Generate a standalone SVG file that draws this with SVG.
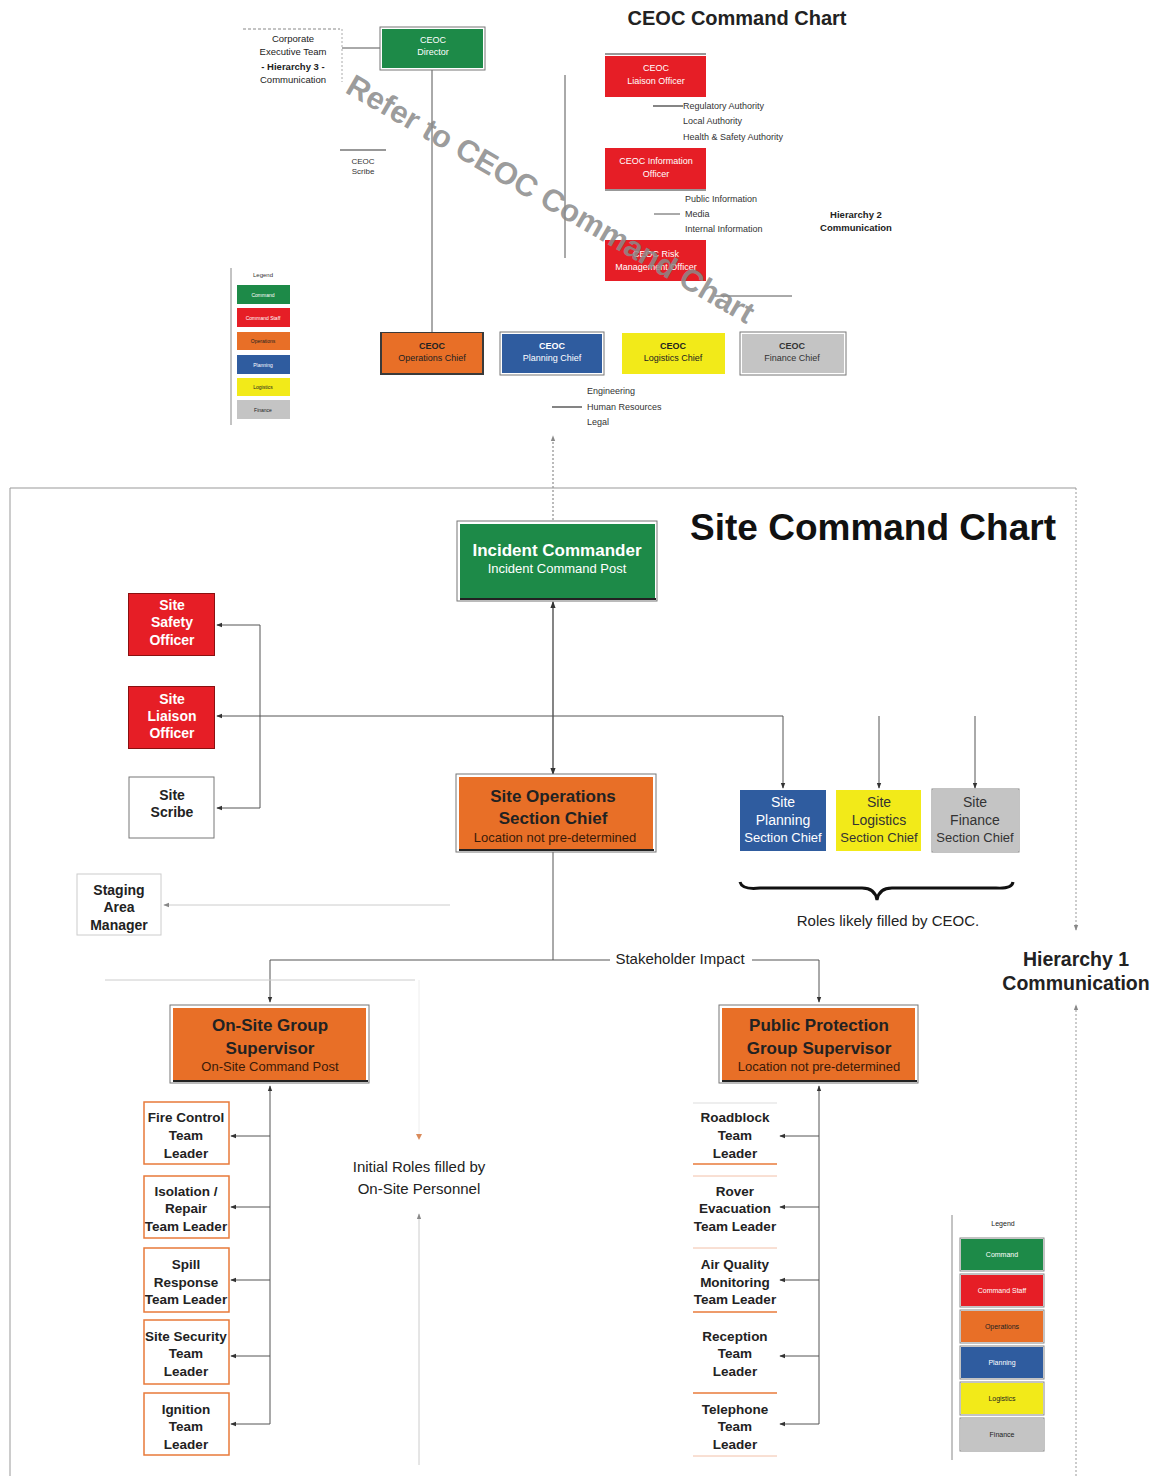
<svg xmlns="http://www.w3.org/2000/svg" width="1156" height="1476" viewBox="0 0 1156 1476">
  <defs>
    <style>
      text { font-family: "Liberation Sans", Arial, sans-serif; text-anchor: middle; }
      .b { font-weight: bold; }
      .ln { stroke: #333; stroke-width: 1.2; fill: none; }
      .lnt { stroke: #555; stroke-width: 1; fill: none; }
      .faint { stroke: #ccc; stroke-width: 1; fill: none; }
      .frame { stroke: #999; stroke-width: 1; fill: none; }
      .green { fill: #1d8a48; }
      .red { fill: #e61e26; }
      .orange { fill: #e86f27; }
      .blue { fill: #2f5c9f; }
      .yellow { fill: #f2ea19; }
      .grey { fill: #c4c4c4; }
      .shadow { fill: #3a3a3a; }
      .outer { fill: #fff; stroke: #777; stroke-width: 1; }
      .tiny { font-size: 8px; }
      .small { font-size: 9px; }
      .lst { font-size: 9px; text-anchor: start; fill: #333; }
      .wb { fill: #fff; font-weight: bold; }
      .kb { fill: #222; font-weight: bold; }
      .lead { font-size: 13.5px; font-weight: bold; fill: #222; }
      .obox { fill: #fff; stroke: #e87a3a; stroke-width: 1.5; }
    </style>
    <marker id="ah" viewBox="0 0 8 8" refX="7" refY="4" markerWidth="6" markerHeight="6" orient="auto">
      <path d="M0,1 L8,4 L0,7 z" fill="#333"/>
    </marker>
    <marker id="ahg" viewBox="0 0 8 8" refX="7" refY="4" markerWidth="6" markerHeight="6" orient="auto">
      <path d="M0,1 L8,4 L0,7 z" fill="#888"/>
    </marker>
  </defs>

  <rect width="1156" height="1476" fill="#fff"/>

  <!-- ===== CEOC chart (upper) ===== -->
  <text x="737" y="25" class="b" font-size="20" fill="#222">CEOC Command Chart</text>

  <g id="connectors-ceoc">
    <line x1="243" y1="29" x2="340" y2="29" stroke="#888" stroke-dasharray="3,2"/>
    <line x1="342" y1="29" x2="342" y2="82" stroke="#aaa" stroke-dasharray="2,2"/>
    <line x1="342" y1="48" x2="380" y2="48" class="lnt"/>
    <line x1="432" y1="69" x2="432" y2="333" class="lnt"/>
    <line x1="340" y1="150" x2="386" y2="150" class="ln"/>
    <line x1="565" y1="75" x2="565" y2="258" class="lnt"/>
    <line x1="605" y1="54" x2="706" y2="54" class="ln"/>
    <line x1="653" y1="106" x2="683" y2="106" class="ln"/>
    <line x1="605" y1="190" x2="706" y2="190" class="ln"/>
    <line x1="654" y1="214" x2="680" y2="214" class="lnt"/>
    <line x1="715" y1="296" x2="792" y2="296" class="lnt"/>
    <line x1="552" y1="407" x2="582" y2="407" class="ln"/>
    <line x1="553" y1="520" x2="553" y2="436" stroke="#777" stroke-dasharray="2,2" marker-end="url(#ahg)"/>
  </g>

  <g id="corporate-exec">
    <text x="293" y="42" font-size="9.5" fill="#222">Corporate</text>
    <text x="293" y="55" font-size="9.5" fill="#222">Executive Team</text>
    <text x="293" y="70" font-size="9.5" class="b" fill="#222">- Hierarchy 3 -</text>
    <text x="293" y="83" font-size="9.5" fill="#222">Communication</text>
  </g>

  <g id="ceoc-director">
    <rect x="380" y="27" width="105" height="43" class="outer"/>
    <rect x="382" y="29" width="101" height="39" class="green"/>
    <text x="433" y="43" class="small" fill="#fff">CEOC</text>
    <text x="433" y="55" class="small" fill="#fff">Director</text>
  </g>

  <g id="ceoc-scribe">
    <text x="363" y="164" class="tiny" fill="#333">CEOC</text>
    <text x="363" y="174" class="tiny" fill="#333">Scribe</text>
  </g>

  <g id="ceoc-liaison">
    <rect x="605" y="56" width="101" height="41" class="red"/>
    <text x="656" y="71" class="small" fill="#fff">CEOC</text>
    <text x="656" y="84" class="small" fill="#fff">Liaison Officer</text>
    <text x="683" y="109" class="lst">Regulatory Authority</text>
    <text x="683" y="124" class="lst">Local Authority</text>
    <text x="683" y="140" class="lst">Health &amp; Safety Authority</text>
  </g>

  <g id="ceoc-information">
    <rect x="605" y="148" width="101" height="41" class="red"/>
    <text x="656" y="164" class="small" fill="#fff">CEOC Information</text>
    <text x="656" y="177" class="small" fill="#fff">Officer</text>
    <text x="685" y="202" class="lst">Public Information</text>
    <text x="685" y="217" class="lst">Media</text>
    <text x="685" y="232" class="lst">Internal Information</text>
  </g>

  <g id="ceoc-risk">
    <rect x="605" y="240" width="101" height="41" class="red"/>
    <text x="656" y="257" class="small" fill="#fff">CEOC Risk</text>
    <text x="656" y="270" class="small" fill="#fff">Management Officer</text>
  </g>

  <g id="hierarchy-2">
    <text x="856" y="218" font-size="9.5" class="b" fill="#222">Hierarchy 2</text>
    <text x="856" y="231" font-size="9.5" class="b" fill="#222">Communication</text>
  </g>

  <g id="ceoc-operations">
    <rect x="380" y="332" width="104" height="43" class="shadow"/>
    <rect x="382" y="333" width="100" height="40" class="orange"/>
    <text x="432" y="349" class="small b" fill="#222">CEOC</text>
    <text x="432" y="361" class="small" fill="#222">Operations Chief</text>
  </g>
  <g id="ceoc-planning">
    <rect x="500" y="332" width="104" height="43" class="outer"/>
    <rect x="502" y="334" width="100" height="39" class="blue"/>
    <text x="552" y="349" class="small b" fill="#fff">CEOC</text>
    <text x="552" y="361" class="small" fill="#fff">Planning Chief</text>
  </g>
  <g id="ceoc-logistics">
    <rect x="622" y="333" width="103" height="41" class="yellow"/>
    <text x="673" y="349" class="small b" fill="#222">CEOC</text>
    <text x="673" y="361" class="small" fill="#222">Logistics Chief</text>
  </g>
  <g id="ceoc-finance">
    <rect x="740" y="332" width="106" height="43" class="outer"/>
    <rect x="742" y="334" width="102" height="39" class="grey"/>
    <text x="792" y="349" class="small b" fill="#333">CEOC</text>
    <text x="792" y="361" class="small" fill="#333">Finance Chief</text>
  </g>

  <g id="planning-list">
    <text x="587" y="394" class="lst">Engineering</text>
    <text x="587" y="410" class="lst">Human Resources</text>
    <text x="587" y="425" class="lst">Legal</text>
  </g>

  <g id="legend-ceoc">
    <line x1="231" y1="268" x2="231" y2="425" stroke="#888"/>
    <text x="263" y="277" font-size="6" fill="#333">Legend</text>
    <rect x="237" y="285" width="53" height="19" class="green"/>
    <text x="263" y="297" font-size="5" fill="#fff">Command</text>
    <rect x="237" y="308" width="53" height="19" class="red"/>
    <text x="263" y="320" font-size="5" fill="#fff">Command Staff</text>
    <rect x="237" y="332" width="53" height="18" class="orange"/>
    <text x="263" y="343" font-size="5" fill="#222">Operations</text>
    <rect x="237" y="355" width="53" height="19" class="blue"/>
    <text x="263" y="367" font-size="5" fill="#fff">Planning</text>
    <rect x="237" y="378" width="53" height="18" class="yellow"/>
    <text x="263" y="389" font-size="5" fill="#222">Logistics</text>
    <rect x="237" y="400" width="53" height="19" class="grey"/>
    <text x="263" y="412" font-size="5" fill="#222">Finance</text>
  </g>

  <!-- overlay note across the CEOC chart -->
  <text x="0" y="0" font-size="31" font-weight="bold" fill="#8a8a8a" fill-opacity="0.85" style="text-anchor:start" transform="translate(344,92) rotate(30)">Refer to CEOC Command Chart</text>

  <!-- ===== Site chart (lower) ===== -->
  <g id="site-frame">
    <line x1="10" y1="488" x2="1076" y2="488" class="frame"/>
    <line x1="10" y1="488" x2="10" y2="1476" class="frame"/>
    <line x1="1076" y1="488" x2="1076" y2="930" stroke="#999" stroke-dasharray="2,2" marker-end="url(#ahg)"/>
    <line x1="1076" y1="1476" x2="1076" y2="1005" stroke="#999" stroke-dasharray="2,2" marker-end="url(#ahg)"/>
  </g>

  <text x="873" y="540" class="b" font-size="37" fill="#111">Site Command Chart</text>

  <g id="connectors-site">
    <!-- command line -->
    <line x1="553" y1="690" x2="553" y2="602" class="ln" marker-end="url(#ah)"/>
    <line x1="553" y1="690" x2="553" y2="774" class="ln" marker-end="url(#ah)"/>
    <!-- staff branch -->
    <line x1="553" y1="716" x2="217" y2="716" class="lnt" marker-end="url(#ah)"/>
    <line x1="553" y1="716" x2="783" y2="716" class="lnt"/>
    <line x1="260" y1="625" x2="260" y2="808" class="lnt"/>
    <line x1="260" y1="625" x2="217" y2="625" class="lnt" marker-end="url(#ah)"/>
    <line x1="260" y1="808" x2="217" y2="808" class="lnt" marker-end="url(#ah)"/>
    <line x1="783" y1="716" x2="783" y2="788" class="lnt" marker-end="url(#ah)"/>
    <line x1="879" y1="716" x2="879" y2="788" class="lnt" marker-end="url(#ah)"/>
    <line x1="975" y1="716" x2="975" y2="788" class="lnt" marker-end="url(#ah)"/>
    <!-- staging -->
    <line x1="450" y1="905" x2="164" y2="905" class="faint" marker-end="url(#ahg)"/>
    <!-- group split -->
    <line x1="553" y1="851" x2="553" y2="960" class="lnt"/>
    <line x1="270" y1="960" x2="610" y2="960" class="lnt"/>
    <line x1="752" y1="960" x2="819" y2="960" class="lnt"/>
    <line x1="270" y1="960" x2="270" y2="1002" class="lnt" marker-end="url(#ah)"/>
    <line x1="819" y1="960" x2="819" y2="1002" class="lnt" marker-end="url(#ah)"/>
    <!-- on-site group -->
    <line x1="270" y1="1424" x2="270" y2="1086" class="lnt" marker-end="url(#ah)"/>
    <line x1="270" y1="1136" x2="231" y2="1136" class="lnt" marker-end="url(#ah)"/>
    <line x1="270" y1="1207" x2="231" y2="1207" class="lnt" marker-end="url(#ah)"/>
    <line x1="270" y1="1280" x2="231" y2="1280" class="lnt" marker-end="url(#ah)"/>
    <line x1="270" y1="1356" x2="231" y2="1356" class="lnt" marker-end="url(#ah)"/>
    <line x1="270" y1="1424" x2="231" y2="1424" class="lnt" marker-end="url(#ah)"/>
    <!-- public protection group -->
    <line x1="819" y1="1424" x2="819" y2="1086" class="lnt" marker-end="url(#ah)"/>
    <line x1="819" y1="1136" x2="780" y2="1136" class="lnt" marker-end="url(#ah)"/>
    <line x1="819" y1="1207" x2="780" y2="1207" class="lnt" marker-end="url(#ah)"/>
    <line x1="819" y1="1280" x2="780" y2="1280" class="lnt" marker-end="url(#ah)"/>
    <line x1="819" y1="1356" x2="780" y2="1356" class="lnt" marker-end="url(#ah)"/>
    <line x1="819" y1="1424" x2="780" y2="1424" class="lnt" marker-end="url(#ah)"/>
    <!-- initial roles bracket -->
    <line x1="105" y1="980" x2="415" y2="980" class="faint"/>
    <line x1="419" y1="980" x2="419" y2="1137" stroke="#eee"/>
    <path d="M416,1134 L419,1140 L422,1134 z" fill="#d98a5a"/>
    <line x1="419" y1="1465" x2="419" y2="1214" class="faint" marker-end="url(#ahg)"/>
  </g>

  <g id="incident-commander">
    <rect x="457" y="521" width="200" height="80" class="outer"/>
    <rect x="460" y="524" width="195" height="74" class="green"/>
    <line x1="460" y1="599" x2="656" y2="599" stroke="#222" stroke-width="2"/>
    <text x="557" y="556" class="wb" font-size="17">Incident Commander</text>
    <text x="557" y="573" font-size="13" fill="#fff">Incident Command Post</text>
  </g>

  <g id="site-safety">
    <rect x="128" y="593" width="87" height="63" fill="#8a1010"/>
    <rect x="129" y="594" width="85" height="61" class="red"/>
    <text x="172" y="610" class="wb" font-size="14">Site</text>
    <text x="172" y="627" class="wb" font-size="14">Safety</text>
    <text x="172" y="645" class="wb" font-size="14">Officer</text>
  </g>
  <g id="site-liaison">
    <rect x="128" y="686" width="87" height="63" fill="#8a1010"/>
    <rect x="129" y="687" width="85" height="61" class="red"/>
    <text x="172" y="704" class="wb" font-size="14">Site</text>
    <text x="172" y="721" class="wb" font-size="14">Liaison</text>
    <text x="172" y="738" class="wb" font-size="14">Officer</text>
  </g>
  <g id="site-scribe">
    <rect x="129" y="777" width="85" height="61" fill="#fff" stroke="#777"/>
    <text x="172" y="800" class="kb" font-size="14">Site</text>
    <text x="172" y="817" class="kb" font-size="14">Scribe</text>
  </g>
  <g id="staging-area">
    <rect x="77" y="874" width="84" height="61" fill="#fff" stroke="#ccc"/>
    <text x="119" y="895" class="kb" font-size="14">Staging</text>
    <text x="119" y="912" class="kb" font-size="14">Area</text>
    <text x="119" y="930" class="kb" font-size="14">Manager</text>
  </g>

  <g id="site-operations">
    <rect x="456" y="774" width="200" height="78" class="outer"/>
    <rect x="459" y="777" width="194" height="72" class="orange"/>
    <line x1="459" y1="850" x2="654" y2="850" stroke="#222" stroke-width="2"/>
    <text x="553" y="802" class="kb" font-size="17">Site Operations</text>
    <text x="553" y="824" class="kb" font-size="17">Section Chief</text>
    <text x="555" y="842" font-size="13" fill="#3a1a08">Location not pre-determined</text>
  </g>

  <g id="site-planning">
    <rect x="740" y="790" width="86" height="61" class="blue"/>
    <text x="783" y="807" font-size="14" fill="#fff">Site</text>
    <text x="783" y="825" font-size="14" fill="#fff">Planning</text>
    <text x="783" y="842" font-size="13" fill="#fff">Section Chief</text>
  </g>
  <g id="site-logistics">
    <rect x="836" y="790" width="85" height="61" class="yellow"/>
    <text x="879" y="807" font-size="14" fill="#333">Site</text>
    <text x="879" y="825" font-size="14" fill="#333">Logistics</text>
    <text x="879" y="842" font-size="13" fill="#333">Section Chief</text>
  </g>
  <g id="site-finance">
    <rect x="932" y="789" width="87" height="63" fill="#fff" stroke="#888"/>
    <rect x="933" y="790" width="85" height="61" class="grey"/>
    <text x="975" y="807" font-size="14" fill="#333">Site</text>
    <text x="975" y="825" font-size="14" fill="#333">Finance</text>
    <text x="975" y="842" font-size="13" fill="#333">Section Chief</text>
  </g>

  <g id="ceoc-roles-note">
    <path d="M740,882 Q742,890 760,888 L862,888 Q875,888 877,900 Q879,888 892,888 L996,888 Q1012,889 1013,882" fill="none" stroke="#111" stroke-width="3"/>
    <text x="888" y="926" font-size="15" fill="#222">Roles likely filled by CEOC.</text>
  </g>

  <text x="680" y="964" font-size="15" fill="#222">Stakeholder Impact</text>

  <g id="hierarchy-1">
    <text x="1076" y="966" class="b" font-size="19.5" fill="#222">Hierarchy 1</text>
    <text x="1076" y="990" class="b" font-size="19.5" fill="#222">Communication</text>
  </g>

  <g id="onsite-group">
    <rect x="170" y="1005" width="199" height="78" class="outer"/>
    <rect x="173" y="1008" width="193" height="72" class="orange"/>
    <line x1="173" y1="1081" x2="368" y2="1081" stroke="#222" stroke-width="2"/>
    <text x="270" y="1031" class="kb" font-size="17">On-Site Group</text>
    <text x="270" y="1054" class="kb" font-size="17">Supervisor</text>
    <text x="270" y="1071" font-size="13" fill="#3a1a08">On-Site Command Post</text>
  </g>
  <g id="public-protection-group">
    <rect x="719" y="1005" width="199" height="78" class="outer"/>
    <rect x="722" y="1008" width="193" height="72" class="orange"/>
    <line x1="722" y1="1081" x2="917" y2="1081" stroke="#222" stroke-width="2"/>
    <text x="819" y="1031" class="kb" font-size="17">Public Protection</text>
    <text x="819" y="1054" class="kb" font-size="17">Group Supervisor</text>
    <text x="819" y="1071" font-size="13" fill="#3a1a08">Location not pre-determined</text>
  </g>

  <g id="fire-control">
    <rect x="144" y="1102" width="85" height="62" class="obox"/>
    <text x="186" y="1122" class="lead">Fire Control</text>
    <text x="186" y="1140" class="lead">Team</text>
    <text x="186" y="1158" class="lead">Leader</text>
  </g>
  <g id="isolation-repair">
    <rect x="144" y="1176" width="85" height="62" class="obox"/>
    <text x="186" y="1196" class="lead">Isolation /</text>
    <text x="186" y="1213" class="lead">Repair</text>
    <text x="186" y="1231" class="lead">Team Leader</text>
  </g>
  <g id="spill-response">
    <rect x="144" y="1248" width="85" height="64" class="obox"/>
    <text x="186" y="1269" class="lead">Spill</text>
    <text x="186" y="1287" class="lead">Response</text>
    <text x="186" y="1304" class="lead">Team Leader</text>
  </g>
  <g id="site-security">
    <rect x="144" y="1320" width="85" height="64" class="obox"/>
    <text x="186" y="1341" class="lead">Site Security</text>
    <text x="186" y="1358" class="lead">Team</text>
    <text x="186" y="1376" class="lead">Leader</text>
  </g>
  <g id="ignition">
    <rect x="144" y="1393" width="85" height="62" class="obox"/>
    <text x="186" y="1414" class="lead">Ignition</text>
    <text x="186" y="1431" class="lead">Team</text>
    <text x="186" y="1449" class="lead">Leader</text>
  </g>

  <g id="initial-roles-note">
    <text x="419" y="1172" font-size="15" fill="#222">Initial Roles filled by</text>
    <text x="419" y="1194" font-size="15" fill="#222">On-Site Personnel</text>
  </g>

  <g id="roadblock">
    <line x1="693" y1="1103" x2="777" y2="1103" stroke="#ddd"/>
    <line x1="693" y1="1164" x2="777" y2="1164" stroke="#e87a3a" stroke-width="1.5"/>
    <text x="735" y="1122" class="lead">Roadblock</text>
    <text x="735" y="1140" class="lead">Team</text>
    <text x="735" y="1158" class="lead">Leader</text>
  </g>
  <g id="rover-evacuation">
    <line x1="693" y1="1176" x2="777" y2="1176" stroke="#f2c0a8"/>
    <text x="735" y="1196" class="lead">Rover</text>
    <text x="735" y="1213" class="lead">Evacuation</text>
    <text x="735" y="1231" class="lead">Team Leader</text>
  </g>
  <g id="air-quality">
    <line x1="693" y1="1248" x2="777" y2="1248" stroke="#f2c0a8"/>
    <line x1="693" y1="1312" x2="777" y2="1312" stroke="#e87a3a" stroke-width="1.5"/>
    <text x="735" y="1269" class="lead">Air Quality</text>
    <text x="735" y="1287" class="lead">Monitoring</text>
    <text x="735" y="1304" class="lead">Team Leader</text>
  </g>
  <g id="reception">
    <text x="735" y="1341" class="lead">Reception</text>
    <text x="735" y="1358" class="lead">Team</text>
    <text x="735" y="1376" class="lead">Leader</text>
  </g>
  <g id="telephone">
    <line x1="693" y1="1393" x2="777" y2="1393" stroke="#e87a3a" stroke-width="1.5"/>
    <line x1="693" y1="1456" x2="777" y2="1456" stroke="#f2c0a8"/>
    <text x="735" y="1414" class="lead">Telephone</text>
    <text x="735" y="1431" class="lead">Team</text>
    <text x="735" y="1449" class="lead">Leader</text>
  </g>

  <g id="legend-site">
    <line x1="952" y1="1215" x2="952" y2="1460" stroke="#888"/>
    <text x="1003" y="1226" font-size="7" fill="#222">Legend</text>
    <rect x="960" y="1238" width="84" height="33" fill="#fff" stroke="#888"/>
    <rect x="961" y="1239" width="82" height="31" class="green"/>
    <text x="1002" y="1257" font-size="7" fill="#fff">Command</text>
    <rect x="960" y="1274" width="84" height="33" fill="#fff" stroke="#888"/>
    <rect x="961" y="1275" width="82" height="31" class="red"/>
    <text x="1002" y="1293" font-size="7" fill="#fff">Command Staff</text>
    <rect x="960" y="1310" width="84" height="33" fill="#fff" stroke="#888"/>
    <rect x="961" y="1311" width="82" height="31" class="orange"/>
    <text x="1002" y="1329" font-size="7" fill="#222">Operations</text>
    <rect x="960" y="1346" width="84" height="33" fill="#fff" stroke="#888"/>
    <rect x="961" y="1347" width="82" height="31" class="blue"/>
    <text x="1002" y="1365" font-size="7" fill="#fff">Planning</text>
    <rect x="960" y="1382" width="84" height="33" fill="#fff" stroke="#888"/>
    <rect x="961" y="1383" width="82" height="31" class="yellow"/>
    <text x="1002" y="1401" font-size="7" fill="#222">Logistics</text>
    <rect x="960" y="1418" width="84" height="33" fill="#fff" stroke="#888"/>
    <rect x="961" y="1419" width="82" height="31" class="grey"/>
    <text x="1002" y="1437" font-size="7" fill="#222">Finance</text>
  </g>
</svg>
